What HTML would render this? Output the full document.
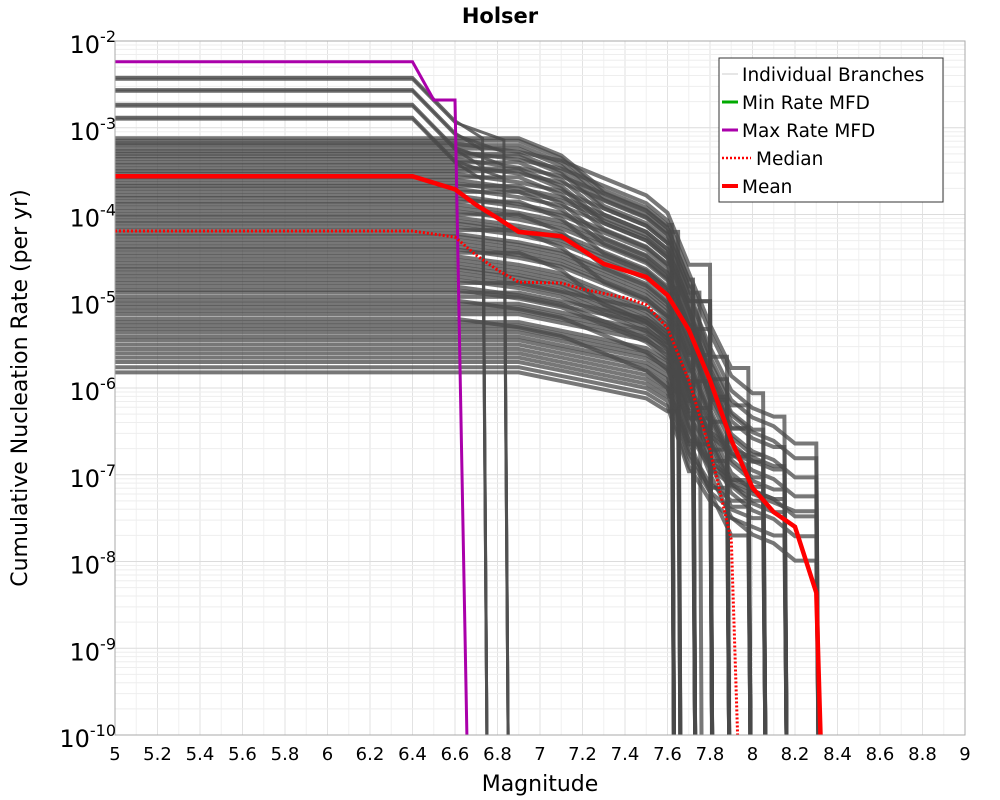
<!DOCTYPE html>
<html><head><meta charset="utf-8"><style>
body{margin:0;background:#fff;}
svg{display:block;font-family:"DejaVu Sans","Liberation Sans",sans-serif;}
</style></head><body>
<svg id="chart" width="1000" height="800" viewBox="0 0 1000 800">
<defs><clipPath id="pc"><rect x="115" y="41" width="850" height="694"/></clipPath></defs>
<text x="500" y="23" text-anchor="middle" font-size="21" font-weight="bold">Holser</text>
<g id="grid"></g>
<g id="branches" clip-path="url(#pc)"></g>
<g id="series" clip-path="url(#pc)"></g>
<rect x="115" y="41" width="850" height="694" fill="none" stroke="#aaa" stroke-width="1"/>
<g id="xticks"></g>
<g id="yticks"></g>
<text x="540" y="791" text-anchor="middle" font-size="22">Magnitude</text>
<text transform="translate(27,388) rotate(-90)" text-anchor="middle" font-size="22">Cumulative Nucleation Rate (per yr)</text>
<g>
<rect x="719" y="58" width="224" height="144" fill="#fff" stroke="#333" stroke-width="1"/>
<g><line x1="722" y1="74" x2="738" y2="74" stroke="#ccc" stroke-width="1"/><text x="742" y="81" font-size="18.5">Individual Branches</text></g>
<g><line x1="722" y1="102" x2="738" y2="102" stroke="#0a0" stroke-width="3"/><text x="742" y="109" font-size="18.5">Min Rate MFD</text></g>
<g><line x1="722" y1="130" x2="738" y2="130" stroke="#a0a" stroke-width="3"/><text x="742" y="137" font-size="18.5">Max Rate MFD</text></g>
<g><line x1="722" y1="158" x2="751" y2="158" stroke="red" stroke-width="2.5" stroke-dasharray="2,2"/><text x="756" y="165" font-size="18.5">Median</text></g>
<g><line x1="722" y1="186" x2="738" y2="186" stroke="red" stroke-width="4"/><text x="742" y="193" font-size="18.5">Mean</text></g>
</g>
</svg>
<script>
const xTicks=[5,5.2,5.4,5.6,5.8,6,6.2,6.4,6.6,6.8,7,7.2,7.4,7.6,7.8,8,8.2,8.4,8.6,8.8,9];
const xTickLabels=["5","5.2","5.4","5.6","5.8","6","6.2","6.4","6.6","6.8","7","7.2","7.4","7.6","7.8","8","8.2","8.4","8.6","8.8","9"];
const yTickExps=[-2,-3,-4,-5,-6,-7,-8,-9,-10];
const meanMags=[5,6.4,6.6,6.7,6.8,6.9,7.1,7.3,7.5,7.6,7.7,7.8,7.9,8.0,8.1,8.2,8.3,8.32];
const meanLogs=[-3.56,-3.56,-3.71,-3.89,-4.04,-4.2,-4.25,-4.57,-4.72,-4.93,-5.33,-5.91,-6.6,-7.15,-7.43,-7.6,-8.36,-10];
const medMags=[5,6.4,6.6,6.7,6.8,6.9,7.1,7.2,7.4,7.5,7.6,7.7,7.8,7.9,7.93];
const medLogs=[-4.19,-4.19,-4.26,-4.47,-4.64,-4.78,-4.79,-4.86,-4.96,-5.04,-5.31,-5.91,-6.71,-7.75,-10];
const maxMags=[5,6.4,6.5,6.6,6.656];
const maxLogs=[-2.24,-2.24,-2.68,-2.68,-10];
const shapeMags=[5,6.4,6.6,6.9,7.1,7.3,7.5,7.6,7.7,7.8,7.9,8.0,8.1,8.2,8.3];
const shape0=[0,0,0,0,-0.2,-0.6,-0.8,-1.0,-1.6,-2.4,-3.0,-3.2,-3.3,-3.4,-3.5];
const shape1=[0,0,0,-0.1,-0.2,-0.4,-0.6,-0.8,-1.4,-2.0,-2.5,-2.7,-2.8,-3.0,-3.1];
const shape2=[0,0,0,0,-0.1,-0.2,-0.3,-0.45,-1.2,-1.6,-1.8,-1.9,-2.0,-2.1,-2.2];
const upperStarts=[-2.42,-2.44,-2.56,-2.58,-2.73,-2.75,-2.88,-2.9];
const upperDrops=[6.75,6.85,6.75,6.85,6.85,6.75,6.85,6.75];
const bandStarts=[-3.12,-3.15,-3.18,-3.2,-3.24,-3.27,-3.3,-3.33,-3.36,-3.4,-3.43,-3.47,-3.5,-3.53,-3.57,-3.6,-3.64,-3.67,-3.7,-3.74,-3.78,-3.81,-3.85,-3.88,-3.92,-3.96,-4.0,-4.03,-4.07,-4.1,-4.14,-4.18,-4.22,-4.25,-4.29,-4.33,-4.37,-4.4,-4.44,-4.48,-4.52,-4.56,-4.6,-4.63,-4.67,-4.71,-4.75,-4.79,-4.83,-4.87,-4.9,-4.95,-4.99,-5.03,-5.07,-5.11,-5.15,-5.2,-5.24,-5.28,-5.32,-5.36,-5.41,-5.45,-5.5,-5.55,-5.6,-5.65,-5.7,-5.76,-5.82];
const bandShapes=[0,0,1,0,0,1,0,0,1,0,1,0,0,1,0,1,1,0,1,0,1,1,0,1,1,1,0,1,1,1,1,0,1,1,1,1,1,1,0,1,1,1,1,1,1,1,1,2,1,1,2,2,1,2,2,2,2,1,2,2,2,2,2,2,2,2,2,2,2,2,2];
const bandDrops=[7.62,7.72,7.8,7.65,7.88,7.98,7.75,7.62,8.05,7.8,7.72,7.98,7.88,8.15,7.62,7.8,8.3,7.72,7.98,7.88,8.05,8.3,7.65,8.15,7.8,7.98,7.72,8.3,8.05,7.88,8.15,7.62,7.8,8.3,7.98,8.05,8.15,7.72,7.88,8.3,7.8,7.98,8.05,8.15,7.62,8.3,7.72,7.88,7.8,7.98,8.15,8.05,8.3,7.62,7.72,7.88,7.8,7.98,8.05,8.15,8.3,7.65,7.72,7.8,7.98,7.88,8.05,7.62,8.15,7.72,7.65];

const NS="http://www.w3.org/2000/svg";
const X0=115,X1=965,Y0=41,Y1=735;
function xs(m){return X0+(m-5)/4*(X1-X0);}
function ys(l){return Y0+(-2-l)/8*(Y1-Y0);}
function mk(t,p,a){const e=document.createElementNS(NS,t);for(const k in a)e.setAttribute(k,a[k]);p.appendChild(e);return e;}
const grid=document.getElementById('grid');
for(let i=0;i<=40;i++){const m=5+i*0.1;
 const l=mk('line',grid,{x1:xs(m),x2:xs(m),y1:Y0,y2:Y1,stroke:i%2?'#f0f0f0':'#e2e2e2','stroke-width':1});
 
 }
for(let d=-10;d<-2;d++){for(let k=1;k<10;k++){const v=d+Math.log10(k);
 const l=mk('line',grid,{x1:X0,x2:X1,y1:ys(v),y2:ys(v),stroke:k==1?'#dcdcdc':'#eeeeee','stroke-width':1});
 
 }}
const xt=document.getElementById('xticks');
xTicks.forEach((m,i)=>{const t=mk('text',xt,{x:xs(m),y:760,'text-anchor':'middle','font-size':18});t.textContent=xTickLabels[i];
 
 });
const yt=document.getElementById('yticks');
yTickExps.forEach(e=>{const t=mk('text',yt,{x:116,y:ys(e)+12,'text-anchor':'end','font-size':24});
 
 
 const a=document.createElementNS(NS,'tspan');a.textContent='10';t.appendChild(a);
 const b=document.createElementNS(NS,'tspan');b.setAttribute('dy','-11');b.setAttribute('font-size','16');b.textContent=String(e);t.appendChild(b);});
function path(ms,ls){return ms.map((m,i)=>(i?'L':'M')+xs(m).toFixed(1)+','+ys(ls[i]).toFixed(1)).join(' ');}
const br=document.getElementById('branches');
upperStarts.forEach((s,i)=>{const d=upperDrops[i];
 const p=mk('path',br,{d:path([5,6.4,6.6,d-0.02,d],[s,s,s-0.5,s-0.7,-10]),fill:'none',stroke:'#505050','stroke-width':3,'stroke-opacity':0.85});
 
 });
const shapes=[shape0,shape1,shape2];
bandStarts.forEach((s,i)=>{const sh=shapes[bandShapes[i]],d=bandDrops[i];const ms=[],ls=[];
 for(let j=0;j<shapeMags.length;j++){if(shapeMags[j]>=d)break;ms.push(shapeMags[j]);ls.push(s+sh[j]);}
 ms.push(d);ls.push(ls[ls.length-1]);ms.push(d+0.01);ls.push(-10);
 const p=mk('path',br,{d:path(ms,ls),fill:'none',stroke:'#4a4a4a','stroke-width':4,'stroke-opacity':0.75});
 
 });
const se=document.getElementById('series');
let p=mk('path',se,{d:path(maxMags,maxLogs),fill:'none',stroke:'#a0a','stroke-width':3});


p=mk('path',se,{d:path(medMags,medLogs),fill:'none',stroke:'red','stroke-width':3,'stroke-dasharray':'2,2'});


p=mk('path',se,{d:path(meanMags,meanLogs),fill:'none',stroke:'red','stroke-width':4.5});


</script>
</body></html>
